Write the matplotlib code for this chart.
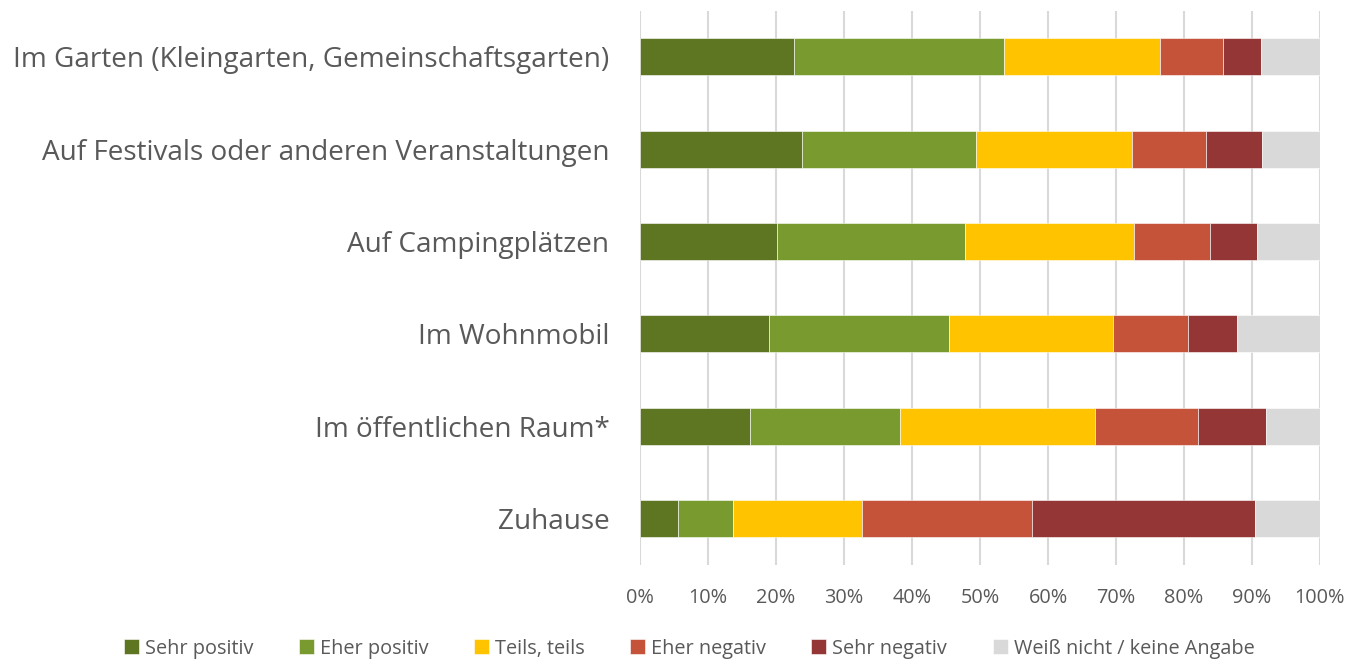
import numpy as np
import matplotlib.pyplot as plt

# categories top to bottom
categories = ['Im Garten (Kleingarten, Gemeinschaftsgarten)',
              'Auf Festivals oder anderen Veranstaltungen',
              'Auf Campingplätzen',
              'Im Wohnmobil',
              'Im öffentlichen Raum*',
              'Zuhause']

series_names = ['Sehr positiv', 'Eher positiv', 'Teils, teils',
                'Eher negativ', 'Sehr negativ', 'Weiß nicht / keine Angabe']

# shares in percent, one list per answer, in category order
sehr_positiv = [22.7, 23.8, 20.2, 19.0, 16.2, 5.6]
eher_positiv = [30.9, 25.6, 27.6, 26.5, 22.1, 8.1]
teils_teils = [22.9, 23.0, 24.9, 24.1, 28.6, 18.9]
eher_negativ = [9.3, 10.8, 11.1, 11.0, 15.1, 25.0]
sehr_negativ = [5.5, 8.2, 6.9, 7.2, 10.1, 32.9]
weiss_nicht = [8.7, 8.6, 9.3, 12.2, 7.9, 9.5]

colors = ['#5E7522', '#789A2E', '#FFC300', '#C5533A', '#943635', '#D9D9D9']

plt.rcParams['font.family'] = ['Open Sans', 'DejaVu Sans']

fig = plt.figure(figsize=(13.51, 6.60), dpi=100)
ax = fig.add_axes([640/1351, 1-564.7/660, 680/1351, (564.7-10.5)/660])

data = [sehr_positiv, eher_positiv, teils_teils, eher_negativ, sehr_negativ, weiss_nicht]
y = np.arange(len(categories))
left = np.zeros(len(categories))
for vals, name, c in zip(data, series_names, colors):
    vals = np.array(vals)
    ax.barh(y, vals / 100, left=left, height=0.4, color=c, label=name,
            edgecolor='white', linewidth=0.4, zorder=3)
    left += vals / 100

ax.set_ylim(len(categories) - 0.5, -0.5)
ax.set_xlim(0, 1)
ax.set_yticks(y)
ax.set_yticklabels(categories, fontsize=20.1, color='#595959')
ax.set_xticks(np.linspace(0, 1, 11))
ax.set_xticklabels([f'{int(v)}%' for v in np.linspace(0, 100, 11)], fontsize=14.3, color='#595959')
ax.tick_params(axis='y', length=0, pad=22)
ax.tick_params(axis='x', length=0, pad=17)
ax.grid(axis='x', color='#D9D9D9', linewidth=1.5, zorder=0)
for s in ax.spines.values():
    s.set_visible(False)

fig.legend(loc='lower center', bbox_to_anchor=(0.51, -0.025), ncol=6, frameon=False,
           fontsize=14.3, labelcolor='#595959', handlelength=0.75, handleheight=0.75,
           handletextpad=0.3, columnspacing=2.3)

fig.savefig('out.png', dpi=100)
